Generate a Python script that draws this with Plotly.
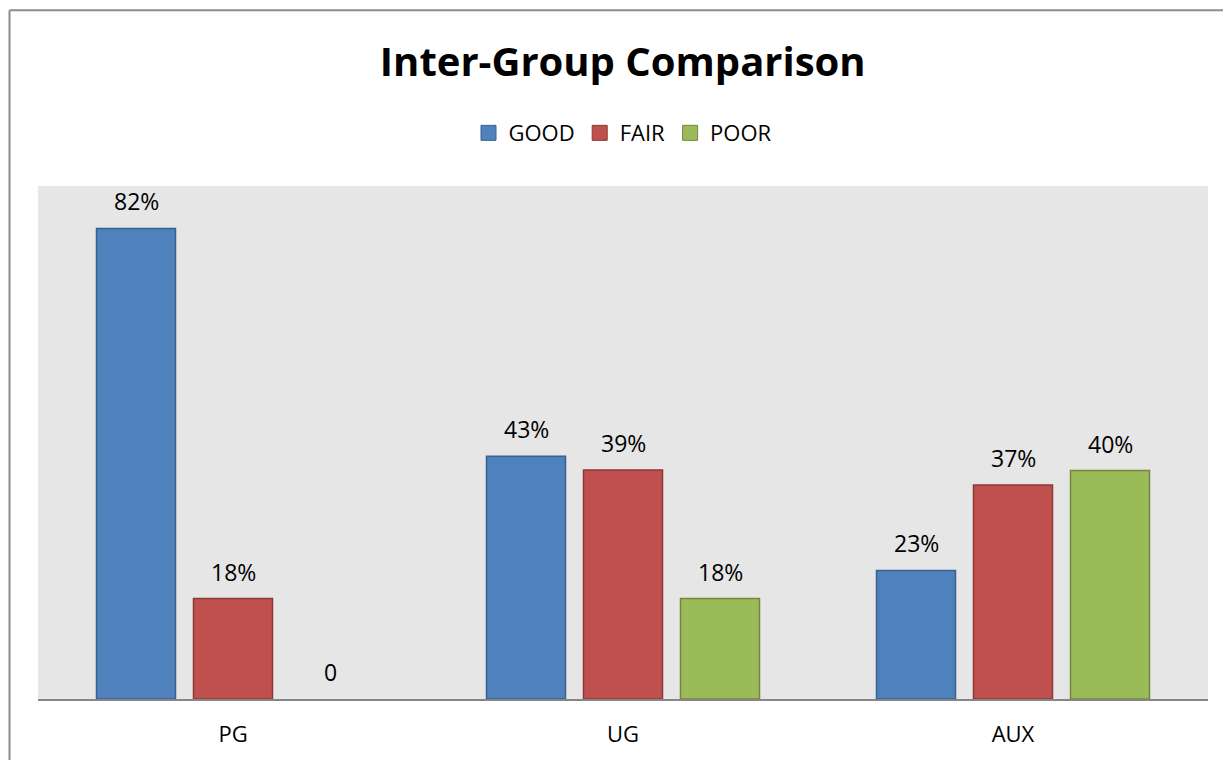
import plotly.graph_objects as go

categories = ["PG", "UG", "AUX"]
series_names = ["GOOD", "FAIR", "POOR"]
good_values = [82, 42.3, 22.4]
fair_values = [17.5, 39.9, 37.3]
poor_values = [0, 17.5, 39.8]
good_labels = ["82%", "43%", "23%"]
fair_labels = ["18%", "39%", "37%"]
poor_labels = ["0", "18%", "40%"]

fill_colors = ["#4F81BD", "#C0504D", "#9BBB59"]
line_colors = ["#3A6190", "#8C3836", "#71893F"]

OFF = 8  # page body margin
W, H = 1231 - OFF, 760 - OFF
L, R, T, B = 37.5 - OFF, 1208 - OFF, 186 - OFF, 699.5 - OFF
FONT = "Open Sans"

values = [good_values, fair_values, poor_values]
labels = [good_labels, fair_labels, poor_labels]
idx = list(range(len(categories)))
spacing = 97 / 390
bar_w = 79 / 390

fig = go.Figure()
annotations = []
for k, name in enumerate(series_names):
    off = (k - 1) * spacing
    xs = [i + off for i in idx]
    fig.add_trace(go.Bar(
        x=xs, y=values[k], name=name, width=bar_w, showlegend=False,
        marker=dict(color=fill_colors[k],
                    line=dict(color=line_colors[k], width=[0 if v == 0 else 1.5 for v in values[k]])),
        hoverinfo="skip",
    ))
    fig.add_trace(go.Scatter(
        x=[None], y=[None], name=name, mode="markers", showlegend=True,
        marker=dict(symbol="square", size=15, color=fill_colors[k],
                    line=dict(color=line_colors[k], width=1)),
    ))
    for x, v, t in zip(xs, values[k], labels[k]):
        annotations.append(dict(x=x, y=v, xref="x", yref="y", text=t, showarrow=False,
                                yanchor="middle", yshift=27,
                                font=dict(family=FONT, size=23, color="#000000")))

bx = 9 - OFF
by = 10 - OFF
shapes = [
    dict(type="line", xref="paper", yref="paper",
         x0=(bx - L) / (R - L), x1=(bx - L) / (R - L),
         y0=(B - by) / (B - T), y1=(B - 800) / (B - T),
         line=dict(color="#8C8C8C", width=2)),
    dict(type="line", xref="paper", yref="paper",
         x0=(bx - L) / (R - L), x1=(1300 - L) / (R - L),
         y0=(B - by) / (B - T), y1=(B - by) / (B - T),
         line=dict(color="#8C8C8C", width=2)),
]

fig.update_layout(
    width=W, height=H,
    margin=dict(l=L, r=W - R, t=T, b=H - B, autoexpand=False),
    paper_bgcolor="#FFFFFF", plot_bgcolor="#E6E6E6",
    barmode="overlay",
    showlegend=True,
    title=dict(text="<b>Inter-Group Comparison</b>", x=(L + R) / 2 / W, xanchor="center",
               y=1 - (62 - OFF) / H, yanchor="middle",
               font=dict(family=FONT, size=40, color="#000000")),
    legend=dict(orientation="h", x=0.5, xanchor="center", y=(B - (133 - OFF)) / (B - T), yanchor="middle",
                font=dict(family=FONT, size=22, color="#000000"), bgcolor="rgba(0,0,0,0)",
                itemclick=False, itemdoubleclick=False, traceorder="normal", itemwidth=30,
                itemsizing="trace"),
    xaxis=dict(range=[-0.5, 2.5], tickvals=idx, ticktext=categories, showgrid=False,
               zeroline=False, showline=True, linecolor="#868686", linewidth=1.5,
               ticks="", ticklabelstandoff=15,
               tickfont=dict(family=FONT, size=22, color="#000000"), fixedrange=True),
    yaxis=dict(range=[0, (B - T) / (471 / 82)], visible=False, showgrid=False,
               zeroline=False, fixedrange=True),
    annotations=annotations,
    shapes=shapes,
)

fig.write_html("out.html")
